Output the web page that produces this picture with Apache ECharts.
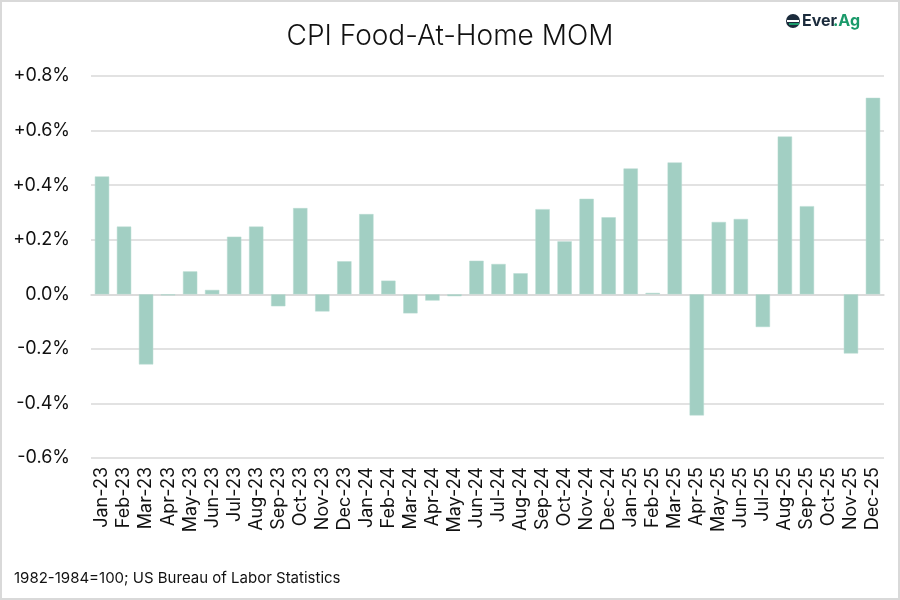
<!DOCTYPE html>
<html>
<head>
<meta charset="utf-8">
<script src="https://cdn.jsdelivr.net/npm/echarts@6/dist/echarts.min.js"></script>
<style>
html,body{margin:0;padding:0;background:#fff;}
#chart{width:900px;height:600px;box-sizing:border-box;border:2px solid #d9d9d9;}
</style>
</head>
<body>
<div id="chart"></div>
<script>
const categories = ["Jan-23","Feb-23","Mar-23","Apr-23","May-23","Jun-23","Jul-23","Aug-23","Sep-23","Oct-23","Nov-23","Dec-23",
  "Jan-24","Feb-24","Mar-24","Apr-24","May-24","Jun-24","Jul-24","Aug-24","Sep-24","Oct-24","Nov-24","Dec-24",
  "Jan-25","Feb-25","Mar-25","Apr-25","May-25","Jun-25","Jul-25","Aug-25","Sep-25","Oct-25","Nov-25","Dec-25"];
const momValues = [0.432,0.248,-0.257,-0.004,0.084,0.016,0.211,0.248,-0.044,0.316,-0.063,0.121,
  0.294,0.050,-0.070,-0.023,-0.007,0.123,0.111,0.077,0.312,0.194,0.350,0.282,
  0.461,0.005,0.483,-0.444,0.265,0.276,-0.120,0.578,0.323,null,-0.217,0.720];
const yTicks = {min:-0.6, max:0.8, interval:0.2};
const titleText = "CPI Food-At-Home MOM";
const footerText = "1982-1984=100; US Bureau of Labor Statistics";

const chart = echarts.init(document.getElementById('chart'), null, {renderer:'canvas'});
const font = "Inter, 'Noto Sans', sans-serif";
chart.setOption({
  animation:false,
  backgroundColor:'#fff',
  textStyle:{fontFamily:font},
  title:{text:titleText,left:'center',top:16,textStyle:{fontFamily:font,fontSize:28,fontWeight:300,color:'#111'}},
  grid:{left:89,right:14,top:74,bottom:140,containLabel:false},
  xAxis:{type:'category',data:categories,
    axisLine:{show:true,onZero:true,lineStyle:{color:'#d9d9d9',width:1.5}},
    axisTick:{show:false},
    axisLabel:{rotate:90,interval:0,margin:9,fontSize:18,color:'#111',fontFamily:font}},
  yAxis:{type:'value',min:yTicks.min,max:yTicks.max,interval:yTicks.interval,
    splitLine:{lineStyle:{color:'#d9d9d9',width:1.5}},
    axisLine:{show:false},axisTick:{show:false},
    axisLabel:{margin:21,fontSize:18,color:'#111',fontFamily:font,
      formatter:function(v){const r=Math.round(v*10)/10; if(Math.abs(r)<1e-9) return '0.0%'; return (r>0?'+':'-')+Math.abs(r).toFixed(1)+'%';}}},
  series:[{type:'bar',data:momValues,barCategoryGap:'35%',
    itemStyle:{color:'#a2cfc3',borderColor:'#b6dbd1',borderWidth:0.5}}],
  graphic:[
    {type:'text',left:12,top:569,style:{text:footerText,fontSize:15,fill:'#111',fontFamily:font}},
    {type:'group',left:784,top:11,children:[
      {type:'circle',shape:{cx:7,cy:8,r:7},style:{fill:'#1b2b3c'}},
      {type:'rect',shape:{x:1,y:7,width:12,height:2},style:{fill:'#fff'}},
      {type:'rect',shape:{x:3,y:10,width:10,height:2},style:{fill:'#1a9a6a'}},
      {type:'text',x:16,y:0,style:{text:'Ever',fontSize:16,fontWeight:'bold',fill:'#1b2b3c',fontFamily:font}},
      {type:'text',x:47,y:0,style:{text:'.Ag',fontSize:16,fontWeight:'bold',fill:'#1a9a6a',fontFamily:font}}
    ]}
  ]
});
</script>
</body>
</html>
